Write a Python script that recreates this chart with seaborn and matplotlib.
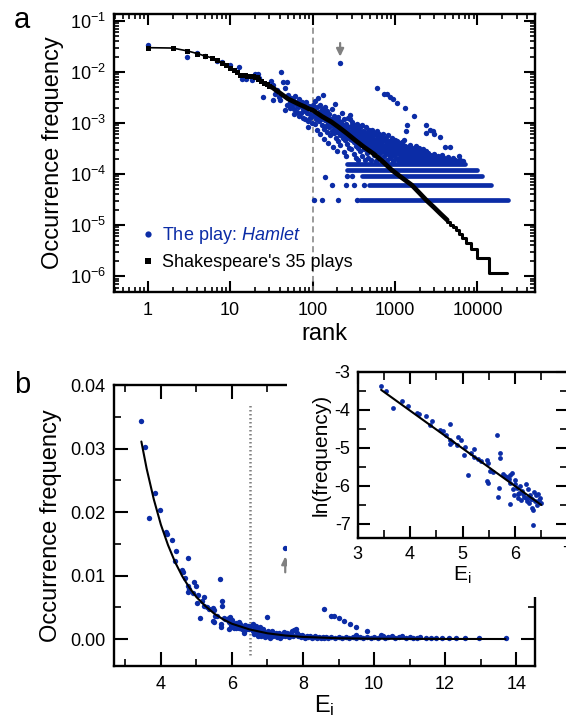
import numpy as np
import matplotlib
matplotlib.use("Agg")
import matplotlib.pyplot as plt
import seaborn as sns
from matplotlib.lines import Line2D
from matplotlib.patches import Rectangle
from matplotlib.ticker import (LogLocator, LogFormatterSciNotation, NullFormatter,
                               MultipleLocator, FormatStrFormatter, FuncFormatter)

sns.set_style("ticks")
plt.rcParams["font.family"] = ["Liberation Sans", "DejaVu Sans"]
plt.rcParams["mathtext.fontset"] = "custom"
plt.rcParams["mathtext.rm"] = "Liberation Sans"
plt.rcParams["mathtext.it"] = "Liberation Sans:italic"
plt.rcParams["axes.unicode_minus"] = False
plt.rcParams["axes.linewidth"] = 1.7
for key in ["axes.edgecolor", "xtick.color", "ytick.color", "text.color", "axes.labelcolor"]:
    plt.rcParams[key] = "black"

BLUE = "#0b2ca6"
GREY = "#808080"

# ── panel a data: rank vs occurrence frequency ───────────────────────────────
# Shakespeare's 35 plays (black curve)
shakes_head = [(1, 0.030), (2, 0.0295), (3, 0.026), (4, 0.023), (5, 0.0205), (6, 0.019),
               (7, 0.0172), (8, 0.0152), (9, 0.0135), (10, 0.0118), (11, 0.0108), (12, 0.0098),
               (13, 0.0088), (14, 0.0087), (15, 0.0086), (16, 0.0085), (17, 0.0084), (18, 0.0083),
               (19, 0.0082), (20, 0.0081), (21, 0.0080), (22, 0.0074), (24, 0.0066), (26, 0.0061),
               (28, 0.0057), (30, 0.0053)]
shakes_body = [(30, 0.0053), (33, 0.0049), (36, 0.0044), (40, 0.0039), (45, 0.0034), (50, 0.0030),
               (60, 0.0026), (70, 0.0023), (80, 0.0021), (90, 0.0019), (100, 0.0018), (130, 0.00135),
               (170, 0.00105), (210, 0.00082), (260, 0.00063), (330, 0.00046), (420, 0.00034),
               (550, 0.00025), (700, 0.00018), (915, 0.00012), (1200, 8.6e-5), (1600, 6.1e-5),
               (2000, 4.2e-5), (2440, 3.0e-5), (3000, 2.2e-5), (3600, 1.65e-5), (4300, 1.26e-5)]
tail_start = [4300, 4650, 5000, 5450, 5950, 6550, 7300, 8300, 10000, 13800, 23000]
tail_level = [1.13e-5, 1.02e-5, 9.04e-6, 7.91e-6, 6.78e-6, 5.65e-6, 4.52e-6, 3.39e-6,
              2.26e-6, 1.13e-6, 1.13e-6]

# Hamlet words (blue dots)
hamlet_head = [(1, 0.034), (3, 0.0194), (4, 0.024), (5, 0.0206), (7, 0.0167), (8, 0.0155),
               (10, 0.0135), (12.8, 0.0127), (13.8, 0.0073), (15.6, 0.0073), (18.2, 0.0070),
               (20, 0.0091), (21.8, 0.0091), (22.6, 0.0078), (25.3, 0.0033), (31, 0.0068),
               (33, 0.0056), (33, 0.0028), (35.5, 0.0037), (37, 0.0045), (39, 0.0033), (40, 0.0028),
               (42, 0.0099), (44, 0.0065), (46, 0.0049), (46, 0.0018), (48.5, 0.0064), (49, 0.0023),
               (51, 0.00352), (53, 0.00263), (54, 0.00198), (55, 0.00307), (56, 0.00221),
               (58, 0.00284), (59, 0.00187), (60, 0.00148), (61, 0.00336), (63, 0.00241),
               (64, 0.00168), (65, 0.00262), (67, 0.00204), (68, 0.00139), (69, 0.00297),
               (71, 0.00229), (72, 0.00161), (74, 0.00253), (76, 0.00191), (77, 0.00127),
               (79, 0.00218), (81, 0.00172), (82, 0.00118), (84, 0.00264), (86, 0.00157),
               (87, 0.00109), (91, 0.00213), (93, 0.00149), (94, 0.00124), (96, 0.00192),
               (98, 0.00138), (99, 0.00102), (89, 0.00085)]
hamlet_cloud = [
    (101, 0.00231), (103, 0.00142), (104, 0.00187), (106, 0.00096), (108, 0.00271), (109, 0.00158),
    (111, 0.00121), (113, 0.00203), (114, 0.00074), (116, 0.00133), (118, 0.00311), (119, 0.00168),
    (121, 0.00109), (123, 0.00221), (124, 0.00061), (126, 0.00147), (128, 0.00118), (129, 0.00189),
    (131, 0.00092), (133, 0.00362), (134, 0.00136), (136, 0.00077), (138, 0.00164), (139, 0.00049),
    (141, 0.00208), (143, 0.00113), (145, 0.00088), (146, 0.00142), (148, 0.00067), (150, 0.00175),
    (152, 0.00101), (154, 0.00129), (156, 0.00041), (158, 0.00083), (160, 0.00152), (162, 0.00107),
    (164, 0.00059), (166, 0.00122), (168, 0.00094), (170, 0.00191), (172, 0.00071), (174, 0.00113),
    (176, 0.00034), (178, 0.00087), (180, 0.00139), (183, 0.00063), (185, 0.00101), (187, 0.00241),
    (189, 0.00078), (191, 0.00052), (193, 0.00118), (195, 0.00088), (197, 0.00029), (199, 0.00067),
    (201, 0.00131), (204, 0.00096), (206, 0.00044), (208, 0.00073), (211, 0.00112), (213, 0.00058),
    (216, 0.00086), (218, 0.00037), (221, 0.00069), (223, 0.00103), (226, 0.00158), (228, 0.00079),
    (231, 0.00051), (233, 0.00093), (236, 0.00064), (238, 0.00027), (241, 0.00118), (243, 0.00072),
    (246, 0.00047), (248, 0.00085), (251, 0.00058), (253, 0.00023), (256, 0.00098), (259, 0.00066),
    (261, 0.00039), (264, 0.00077), (267, 0.00053), (270, 0.00128), (272, 0.00082), (275, 0.00061),
    (277, 0.00033), (280, 0.00071), (283, 0.00048), (286, 0.00143), (288, 0.00118), (291, 0.00089),
    (294, 0.00057), (296, 0.00031), (299, 0.00069), (302, 0.00104), (305, 0.00046), (308, 0.00076),
    (311, 0.00059), (314, 0.00025), (317, 0.00091), (320, 0.00042), (323, 0.00067), (327, 0.00083),
    (330, 0.00052), (333, 0.00036), (337, 0.00061), (340, 0.00021), (343, 0.00097), (347, 0.00072),
    (350, 0.00048), (354, 0.00057), (357, 0.00033), (361, 0.00019), (364, 0.00079), (368, 0.00062),
    (372, 0.00044), (375, 0.00028), (379, 0.00054), (383, 0.00087), (387, 0.00038), (391, 0.00066),
    (395, 0.00049), (399, 0.00023), (403, 0.00093), (407, 0.00058), (411, 0.00041), (415, 0.00071),
    (420, 0.00031), (424, 0.00052), (428, 0.00019), (433, 0.00068), (437, 0.00044), (442, 0.00036),
    (446, 0.00082), (451, 0.00057), (455, 0.00026), (460, 0.00047), (465, 0.00063), (470, 0.00039),
    (475, 0.00021), (480, 0.00074), (485, 0.00053), (490, 0.00033), (495, 0.00045), (500, 0.00061),
    (506, 0.00028), (511, 0.00038), (517, 0.00019), (522, 0.00056), (528, 0.00072), (533, 0.00042),
    (539, 0.00031), (545, 0.00049), (551, 0.00024), (557, 0.00064), (563, 0.00037), (569, 0.00046),
    (575, 0.00027), (581, 0.00018), (588, 0.00058), (594, 0.00034), (600, 0.00043), (607, 0.00069),
    (614, 0.00029), (620, 0.00051), (627, 0.00039), (634, 0.00022), (641, 0.00047), (648, 0.00061),
    (655, 0.00033), (662, 0.00026), (670, 0.00042), (677, 0.00054), (685, 0.00031), (692, 0.00019),
    (700, 0.00038), (708, 0.00049), (716, 0.00028), (724, 0.00061), (732, 0.00035), (740, 0.00023),
    (748, 0.00044), (757, 0.00031), (765, 0.00052), (774, 0.00026), (782, 0.00038), (791, 0.00019),
    (800, 0.00047), (809, 0.00029), (818, 0.00036), (828, 0.00058), (837, 0.00024), (847, 0.00041),
    (856, 0.00032), (866, 0.00021), (876, 0.00045), (886, 0.00034), (896, 0.00027), (906, 0.00039),
    (916, 0.00052), (927, 0.00023), (937, 0.00031), (948, 0.00018), (959, 0.00043), (970, 0.00029),
    (981, 0.00036), (992, 0.00025), (1003, 0.00047), (1015, 0.00033), (1027, 0.00021), (1038, 0.00039),
    (1050, 0.00028), (1062, 0.00044), (1075, 0.00019), (1087, 0.00035), (1100, 0.00026), (1112, 0.00041),
    (1125, 0.00031), (1138, 0.00022), (1152, 0.00037), (1165, 0.00027), (1179, 0.00018), (1193, 0.00034),
    (1207, 0.00042), (1221, 0.00024), (1235, 0.00031), (1250, 0.00019), (1264, 0.00038), (1279, 0.00027),
    (1294, 0.00033), (1309, 0.00021), (1325, 0.00029), (1340, 0.00036), (1356, 0.00024), (1372, 0.00018),
    (1388, 0.00031), (1404, 0.00026), (1421, 0.00034), (1437, 0.00021), (1454, 0.00028), (1471, 0.00019),
    (1489, 0.00032), (1506, 0.00025), (1524, 0.00038), (1542, 0.00022), (1560, 0.00029), (1578, 0.00018),
    (1597, 0.00026), (1616, 0.00033), (1635, 0.00021), (1654, 0.00027), (1673, 0.00019), (1693, 0.00031),
    (1713, 0.00024), (1733, 0.00018), (1754, 0.00028), (1774, 0.00022), (1795, 0.00035), (1816, 0.00019),
    (1838, 0.00025), (1859, 0.00021), (1881, 0.00029), (1903, 0.00018), (1926, 0.00024), (1948, 0.00032),
    (1971, 0.00021), (1994, 0.00026), (2018, 0.00019), (2041, 0.00023), (2065, 0.00029), (2090, 0.00018),
    (2114, 0.00022), (2139, 0.00026), (2164, 0.00019), (2190, 0.00024), (2215, 0.00031), (2241, 0.00018),
    (2268, 0.00021), (2294, 0.00025), (2321, 0.00019), (2348, 0.00022), (2376, 0.00028), (2404, 0.00018),
    (2432, 0.00021), (2461, 0.00024), (2490, 0.00019), (2519, 0.00026), (2548, 0.00018), (2578, 0.00022),
    (2609, 0.00019), (2640, 0.00024), (2671, 0.00018), (2702, 0.00021), (2734, 0.00019), (2766, 0.00023),
    (2800, 0.00018), (2870, 0.00021), (2940, 0.00019), (3010, 0.00025), (3080, 0.00018), (3160, 0.00021),
    (3240, 0.00019), (3320, 0.00023), (3400, 0.00018), (3500, 0.00021), (3600, 0.00019), (3700, 0.00024),
    (3800, 0.00018), (3950, 0.00021), (4100, 0.00019), (4250, 0.00018), (4400, 0.00022), (4600, 0.00019),
    (4800, 0.00018), (5000, 0.00021), (5300, 0.00019), (5700, 0.00018), (6100, 0.00019), (6600, 0.00018)]
hamlet_outliers = [
    (215, 0.0148), (600, 0.0048), (740, 0.0037), (800, 0.0037), (870, 0.0032), (950, 0.0029),
    (1070, 0.0025), (1320, 0.0020), (1700, 0.0014), (1400, 0.00092), (1380, 0.00069),
    (1290, 0.00046), (2350, 0.00092), (2350, 0.00065), (2640, 0.00074), (2900, 0.00071),
    (2950, 0.0006), (3500, 0.00054), (4050, 0.00034), (4600, 0.00034), (5950, 0.00023),
    (5600, 0.000175), (6400, 0.000175), (142, 8.8e-5), (173, 6.1e-5),
    (255, 6.1e-5), (320, 6.1e-5), (423, 6.1e-5), (263, 9.1e-5), (300, 9.1e-5),
    (104, 3.05e-5), (130, 3.05e-5), (204, 3.05e-5), (348, 3.05e-5)]
# words seen 1..5 times in Hamlet form flat rows
band_level = [3.05e-5, 6.1e-5, 9.15e-5, 1.22e-4, 1.55e-4]
band_start = [378, 486, 400, 263, 263]
band_end = [23200, 14800, 11500, 10000, 7100]

split_rank = 100
arrow_a = [(216, 0.037), (216, 0.0200)]

# ── panel b data: frequency vs E_i ───────────────────────────────────────────
inset_points = [
    (3.45, -3.37), (3.55, -3.50), (3.67, -3.96), (3.84, -3.77), (3.97, -3.90), (4.14, -4.08),
    (4.18, -4.10), (4.30, -4.16), (4.42, -4.28), (4.39, -4.40), (4.58, -4.52), (4.62, -4.55),
    (4.69, -4.65), (4.76, -4.36), (4.77, -4.78), (4.76, -4.90), (4.80, -4.85), (4.89, -4.93),
    (4.92, -4.71), (4.98, -4.79), (5.03, -5.18), (5.05, -4.97), (5.11, -5.71), (5.17, -5.12),
    (5.21, -5.25), (5.22, -5.02), (5.30, -5.28), (5.35, -5.35), (5.46, -5.32), (5.49, -5.40),
    (5.52, -5.60), (5.46, -5.88), (5.49, -5.93), (5.58, -5.62), (5.65, -4.66), (5.71, -5.12),
    (5.70, -6.06), (5.72, -5.27), (5.68, -6.30), (5.77, -5.69), (5.80, -5.75), (5.85, -5.77),
    (5.88, -5.82), (5.91, -5.72), (5.94, -5.65), (5.91, -5.93), (5.97, -6.09), (6.00, -5.83),
    (6.00, -5.96), (6.03, -6.05), (6.06, -6.22), (6.08, -6.18), (6.10, -6.00), (6.13, -6.12),
    (6.16, -6.20), (6.18, -6.28), (6.21, -5.95), (6.22, -6.40), (6.24, -6.07), (6.26, -6.30),
    (6.29, -6.24), (6.31, -6.35), (6.33, -6.59), (6.35, -7.04), (6.37, -6.15), (6.38, -6.40),
    (6.40, -6.24), (6.41, -6.50), (6.44, -6.20), (6.46, -6.37), (6.48, -6.31), (6.49, -6.45),
    (6.33, -6.34), (6.35, -6.62), (5.91, -6.47), (6.05, -6.33), (6.20, -6.33), (5.98, -6.25),
    (6.12, -6.38), (6.27, -6.45)]
inset_fit = [(3.45, -3.47), (6.5, -6.5)]

far_points = [
    (6.55, 0.0020), (6.58, 0.0012), (6.60, 0.0024), (6.62, 0.0008), (6.65, 0.0017), (6.68, 0.0021),
    (6.70, 0.0011), (6.72, 0.0005), (6.75, 0.0014), (6.78, 0.0019), (6.80, 0.0009), (6.83, 0.0004),
    (6.86, 0.0012), (6.88, 0.0016), (6.90, 0.0007), (6.93, 0.0003), (6.95, 0.0010), (6.98, 0.0005),
    (7.00, 0.0035), (7.02, 0.0013), (7.05, 0.0006), (7.08, 0.0002), (7.10, 0.0009), (7.13, 0.0012),
    (7.16, 0.0004), (7.20, 0.0007), (7.23, 0.0010), (7.26, 0.0003), (7.30, 0.0006), (7.33, 0.0009),
    (7.36, 0.0002), (7.40, 0.0005), (7.43, 0.0008), (7.46, 0.0011), (7.50, 0.0143), (7.50, 0.0004),
    (7.53, 0.0007), (7.56, 0.0010), (7.60, 0.0003), (7.63, 0.0006), (7.66, 0.0009), (7.70, 0.0012),
    (7.73, 0.0005), (7.76, 0.0014), (7.80, 0.0016), (7.83, 0.0010), (7.86, 0.0004), (7.90, 0.0007),
    (7.93, 0.0003), (7.96, 0.0006), (8.00, 0.0004), (8.05, 0.0002), (8.10, 0.0005), (8.15, 0.0003),
    (8.20, 0.0004), (8.25, 0.0002), (8.30, 0.0003), (8.35, 0.0004), (8.40, 0.0002), (8.45, 0.0003),
    (8.50, 0.0002), (8.55, 0.0003), (8.59, 0.0047), (8.60, 0.0002), (8.65, 0.0003), (8.70, 0.0002),
    (8.78, 0.0036), (8.80, 0.0003), (8.87, 0.0036), (8.90, 0.0002), (9.00, 0.0033), (9.00, 0.0003),
    (9.10, 0.0002), (9.15, 0.0029), (9.20, 0.0003), (9.32, 0.0024), (9.30, 0.0002), (9.40, 0.0003),
    (9.49, 0.0019), (9.50, 0.0006), (9.50, 0.0002), (9.60, 0.0003), (9.70, 0.0002), (9.79, 0.0013),
    (9.80, 0.0003), (9.90, 0.0002), (10.0, 0.0003), (10.1, 0.0002), (10.2, 0.0006), (10.25, 0.0004),
    (10.3, 0.0002), (10.4, 0.0003), (10.5, 0.0004), (10.6, 0.0002), (10.7, 0.0003), (10.8, 0.0004),
    (10.9, 0.0002), (11.0, 0.0003), (11.1, 0.0002), (11.2, 0.0002), (11.3, 0.0003), (11.45, 0.0002),
    (11.6, 0.0002), (11.75, 0.0002), (11.9, 0.0001), (12.1, 0.0001), (12.3, 0.0001), (12.55, 0.0001),
    (12.95, 0.0001), (13.7, 0.0001)]
main_fit = [(3.45, 0.0311), (3.6, 0.0268), (3.8, 0.0220), (4.0, 0.0180), (4.2, 0.0148),
            (4.4, 0.0121), (4.6, 0.0099), (4.8, 0.0081), (5.0, 0.0066), (5.25, 0.0052),
            (5.5, 0.0040), (5.75, 0.0031), (6.0, 0.0024), (6.5, 0.0015), (7.0, 0.0009),
            (7.5, 0.00055), (8.0, 0.00033), (9.0, 0.00012), (10.0, 0.00005), (11.0, 0.00002),
            (12.0, 0.00001), (13.7, 0.0)]
split_E = 6.52
arrow_b = [(7.5, 0.0105), (7.5, 0.0130)]


def xy(pairs):
    arr = np.array(pairs, dtype=float)
    return arr[:, 0], arr[:, 1]


W, H = 566, 718


def px(l, t, r, b):
    """axes rect from pixel edges (top-left origin)"""
    return [l / W, 1 - b / H, (r - l) / W, (b - t) / H]


def style_ticks(ax, major, minor, size=13):
    ax.tick_params(which="both", direction="in", top=True, right=True, labelsize=size)
    ax.tick_params(which="major", length=major, width=1.5)
    ax.tick_params(which="minor", length=minor, width=1.2)


fig = plt.figure(figsize=(W / 100, H / 100), dpi=100)

# ── panel a ──────────────────────────────────────────────────────────────────
ax = fig.add_axes(px(114, 14, 535, 292))
ax.set_xscale("log")
ax.set_yscale("log")

hx, hy = xy(hamlet_head + hamlet_cloud + hamlet_outliers)
sns.scatterplot(x=hx, y=hy, ax=ax, color=BLUE, s=15, linewidth=0, legend=False, zorder=2)
ax.hlines(band_level, band_start, band_end, colors=BLUE, lw=3.4, capstyle="round", zorder=2)

sx, sy = xy(shakes_head)
sns.lineplot(x=sx, y=sy, ax=ax, color="k", lw=1.2, marker="s", markersize=3.6,
             markeredgewidth=0, estimator=None, legend=False, zorder=3)
bx, by = xy(shakes_body)
sns.lineplot(x=bx, y=by, ax=ax, color="k", lw=3.4, estimator=None, legend=False, zorder=3)
sns.lineplot(x=tail_start, y=tail_level, ax=ax, color="k", lw=2.2, drawstyle="steps-post",
             estimator=None, legend=False, zorder=3)

ax.axvline(split_rank, ymin=0, ymax=0.955, color=GREY, lw=1.1, ls=(0, (4, 2.5)), zorder=1)
ax.annotate("", xy=arrow_a[1], xytext=arrow_a[0],
            arrowprops=dict(arrowstyle="-|>,head_length=0.45,head_width=0.22", color=GREY,
                            lw=1.6, shrinkA=0, shrinkB=0))

ax.set_xlim(0.39, 50000)
ax.set_ylim(4.9e-7, 0.137)
ax.xaxis.set_major_locator(LogLocator(base=10, numticks=20))
ax.xaxis.set_minor_locator(LogLocator(base=10, subs=np.arange(2, 10), numticks=20))
ax.xaxis.set_major_formatter(FuncFormatter(lambda v, _: f"{v:g}"))
ax.xaxis.set_minor_formatter(NullFormatter())
ax.yaxis.set_major_locator(LogLocator(base=10, numticks=20))
ax.yaxis.set_minor_locator(LogLocator(base=10, subs=np.arange(2, 10), numticks=20))
ax.yaxis.set_major_formatter(LogFormatterSciNotation())
ax.yaxis.set_minor_formatter(NullFormatter())
style_ticks(ax, 7.7, 3.8)
ax.tick_params(axis="x", pad=7)
ax.tick_params(axis="y", pad=6)
ax.set_xlabel("rank", fontsize=17, labelpad=3)
ax.set_ylabel("Occurrence frequency", fontsize=17, labelpad=4)

handles = [Line2D([], [], ls="none", marker="o", color=BLUE, markersize=4.5, markeredgewidth=0),
           Line2D([], [], ls="none", marker="s", color="k", markersize=4.2, markeredgewidth=0)]
leg = ax.legend(handles, ["The play: $\\mathit{Hamlet}$", "Shakespeare's 35 plays"],
                loc="lower left", bbox_to_anchor=(0.063, 0.075), frameon=False, fontsize=13,
                handlelength=0.8, handletextpad=0.4, borderpad=0, borderaxespad=0,
                labelspacing=0.45)
leg.get_texts()[0].set_color(BLUE)

# ── panel b ──────────────────────────────────────────────────────────────────
axb = fig.add_axes(px(114, 385, 535, 666))
ix, iy = xy(inset_points)
fx, fy = xy(far_points)
bxs = np.concatenate([ix, fx])
bys = np.concatenate([np.exp(iy), fy])
sns.scatterplot(x=bxs, y=bys, ax=axb, color=BLUE, s=15, linewidth=0, legend=False, zorder=2)
mx, my = xy(main_fit)
sns.lineplot(x=mx, y=my, ax=axb, color="k", lw=1.5, estimator=None, legend=False, zorder=3)
axb.axvline(split_E, ymin=0.04, ymax=0.935, color=GREY, lw=1.8, ls=(0, (0.6, 1.0)), zorder=1)
axb.annotate("", xy=arrow_b[1], xytext=arrow_b[0],
             arrowprops=dict(arrowstyle="-|>,head_length=0.45,head_width=0.22", color=GREY,
                             lw=1.6, shrinkA=0, shrinkB=0))
axb.set_xlim(2.68, 14.53)
axb.set_ylim(-0.00425, 0.04)
axb.xaxis.set_major_locator(MultipleLocator(2))
axb.xaxis.set_minor_locator(MultipleLocator(1))
axb.yaxis.set_major_locator(MultipleLocator(0.01))
axb.yaxis.set_minor_locator(MultipleLocator(0.005))
axb.yaxis.set_major_formatter(FormatStrFormatter("%.2f"))
style_ticks(axb, 10, 5)
axb.tick_params(axis="x", pad=7)
axb.tick_params(axis="y", pad=6)
axb.set_xlabel("$\\mathregular{E_i}$", fontsize=17, labelpad=0)
axb.set_ylabel("Occurrence frequency", fontsize=17, labelpad=6)

# white box behind the inset hides that corner of the main frame
fig.add_artist(Rectangle((287 / W, 1 - 597 / H), 1 - 287 / W, (597 - 360) / H,
                         transform=fig.transFigure, facecolor="white", edgecolor="none",
                         zorder=1))

# ── inset ───────────────────────────────────────────────────────────────────
axi = fig.add_axes(px(357.5, 372, 567.5, 538))
axi.set_zorder(2)
sns.scatterplot(x=ix, y=iy, ax=axi, color=BLUE, s=12, linewidth=0, legend=False, zorder=2)
ifx, ify = xy(inset_fit)
sns.lineplot(x=ifx, y=ify, ax=axi, color="k", lw=1.5, estimator=None, legend=False, zorder=3)
axi.set_xlim(3, 7)
axi.set_ylim(-7.37, -3)
axi.xaxis.set_major_locator(MultipleLocator(1))
axi.xaxis.set_minor_locator(MultipleLocator(0.5))
axi.yaxis.set_major_locator(MultipleLocator(1))
axi.yaxis.set_minor_locator(MultipleLocator(0.5))
axi.xaxis.set_major_formatter(FormatStrFormatter("%d"))
axi.yaxis.set_major_formatter(FormatStrFormatter("%d"))
style_ticks(axi, 8.5, 5.5)
axi.tick_params(axis="x", pad=6)
axi.tick_params(axis="y", pad=5)
axi.set_xlabel("$\\mathregular{E_i}$", fontsize=15, labelpad=1)
axi.set_ylabel("ln(frequency)", fontsize=15, labelpad=3)

fig.text(22 / W, 1 - 20 / H, "a", fontsize=21, ha="center", va="center")
fig.text(22 / W, 1 - 385 / H, "b", fontsize=21, ha="center", va="center")

fig.savefig("out.png", dpi=100)
